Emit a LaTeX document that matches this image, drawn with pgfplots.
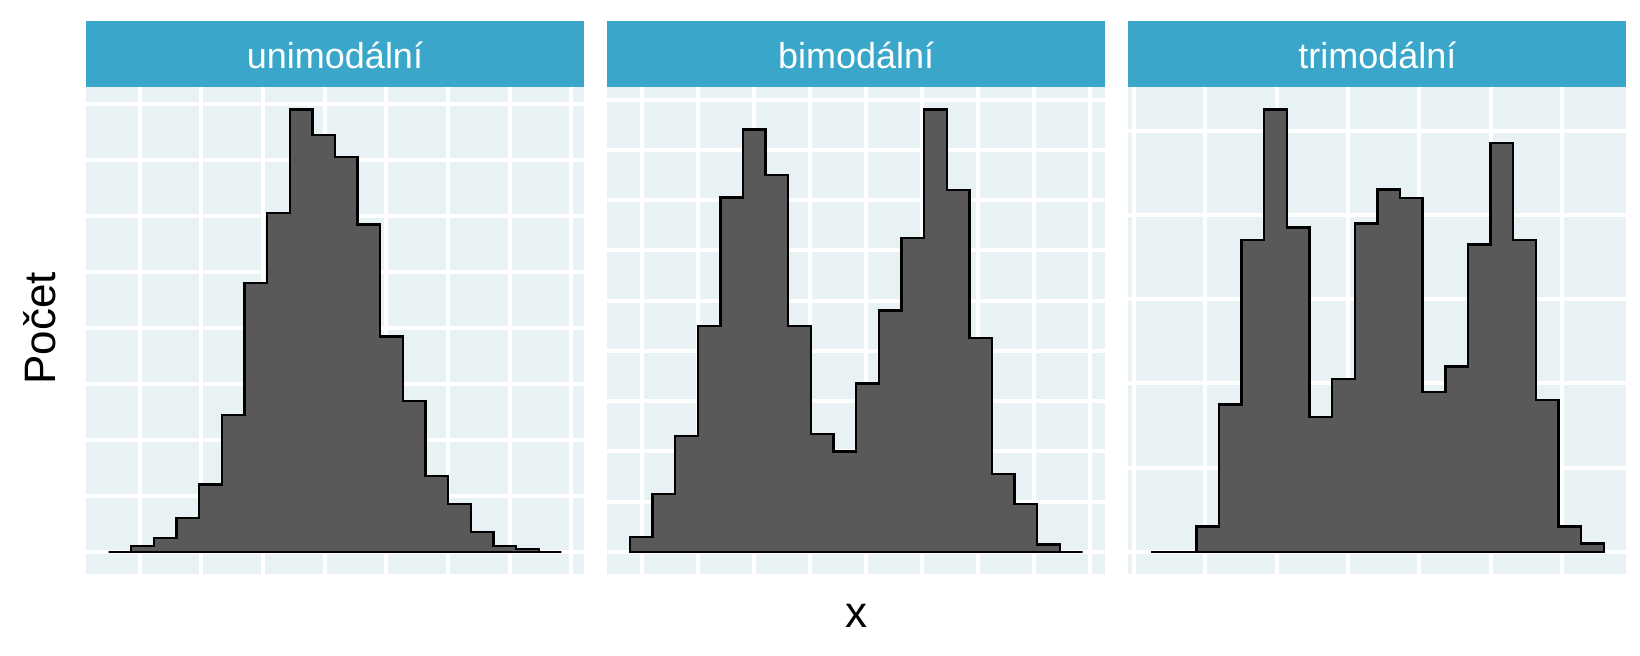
\documentclass[border=0pt]{standalone}
\usepackage{pgfplots}
\pgfplotsset{compat=1.18}
\usepackage{fontspec}
\setmainfont{Liberation Sans}
\definecolor{stripcol}{HTML}{3AA7CA}
\definecolor{panelbg}{HTML}{E8F1F4}
\definecolor{barcol}{HTML}{595959}
\pgfplotsset{
  facet/.style={
    scale only axis, width=249pt, height=243.25pt,
    anchor=south west,
    axis background/.style={fill=panelbg},
    axis line style={draw=none},
    tick style={draw=none},
    major tick length=0pt,
    xticklabels={}, yticklabels={},
    grid=major,
    major grid style={white, line width=2pt},
    xmin=-1, xmax=21,
  },
  hist/.style={const plot, fill=barcol, draw=black, line width=1.2pt, line join=miter},
}
\begin{document}
\begin{tikzpicture}
\useasboundingbox (0,0) rectangle (820pt,328pt);
% ---------- unimodalni ----------
\begin{axis}[facet, at={(43pt,41pt)}, ymin=-7.9, ymax=165.9,
  xtick={1.373,4.097,6.821,9.545,12.269,14.993,17.717,20.441},
  ytick={0,20,...,160}]
\addplot[hist] coordinates {(0,0) (0,0) (1,2) (2,5) (3,12) (4,24) (5,49) (6,96) (7,121) (8,158) (9,149) (10,141) (11,117) (12,77) (13,54) (14,27) (15,17) (16,7) (17,2) (18,1) (19,0) (20,0) (20,0)} -- cycle;
\end{axis}
% ---------- bimodalni ----------
\begin{axis}[facet, at={(303.6pt,41pt)}, ymin=-8.8, ymax=184.8,
  xtick={0.531,3.005,5.479,7.953,10.427,12.901,15.375,17.849,20.323},
  ytick={0,20,...,180}]
\addplot[hist] coordinates {(0,0) (0,6) (1,23) (2,46) (3,90) (4,141) (5,168) (6,150) (7,90) (8,47) (9,40) (10,67) (11,96) (12,125) (13,176) (14,144) (15,85) (16,31) (17,19) (18,3) (19,0) (20,0) (20,0)} -- cycle;
\end{axis}
% ---------- trimodalni ----------
\begin{axis}[facet, at={(564.2pt,41pt)}, ymin=-5.25, ymax=110.25,
  xtick={-0.75,2.40,5.55,8.70,11.85,15.00,18.15},
  ytick={0,20,...,100}]
\addplot[hist] coordinates {(0,0) (0,0) (1,0) (2,6) (3,35) (4,74) (5,105) (6,77) (7,32) (8,41) (9,78) (10,86) (11,84) (12,38) (13,44) (14,73) (15,97) (16,74) (17,36) (18,6) (19,2) (20,2) (20,0)} -- cycle;
\end{axis}
% strips
\fill[stripcol] (43pt,284.25pt) rectangle (292pt,317.5pt);
\fill[stripcol] (303.6pt,284.25pt) rectangle (552.6pt,317.5pt);
\fill[stripcol] (564.2pt,284.25pt) rectangle (813.2pt,317.5pt);
\node[text=white, font=\fontsize{18}{21}\selectfont, anchor=base] at (167.5pt,293.85pt) {unimodální};
\node[text=white, font=\fontsize{18}{21}\selectfont, anchor=base] at (428.1pt,293.85pt) {bimodální};
\node[text=white, font=\fontsize{18}{21}\selectfont, anchor=base] at (688.7pt,293.85pt) {trimodální};
% axis titles
\node[rotate=90, font=\fontsize{22}{26}\selectfont] at (20pt,163.75pt) {Počet};
\node[font=\fontsize{22}{26}\selectfont] at (428pt,20.25pt) {x};
\end{tikzpicture}
\end{document}
